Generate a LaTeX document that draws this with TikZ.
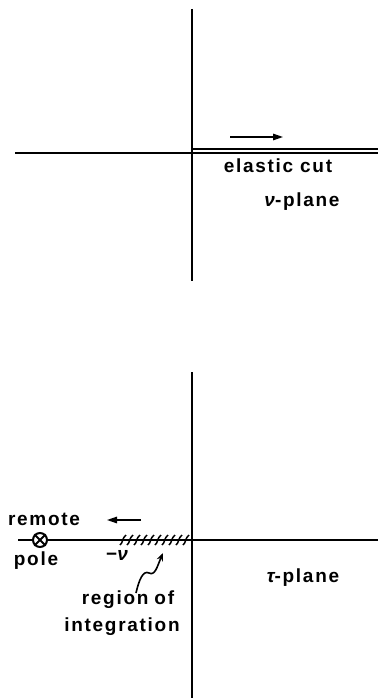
\documentclass[tikz,border=0pt]{standalone}
\usepackage{fontspec}
\setmainfont{Liberation Sans}
\newfontfamily\lblfont[LetterSpace=9]{Liberation Sans Bold}
\newfontfamily\grkfont{Liberation Sans Bold Italic}
\usetikzlibrary{arrows.meta}
\begin{document}
\begin{tikzpicture}[x=1pt,y=-1pt,
  axis/.style={line width=1.8pt,black},
  hline/.style={line width=1.3pt,black},
  lbl/.style={font=\lblfont\fontsize{19}{22}\selectfont,inner sep=0pt},
  dirarrow/.style={line width=1.4pt,-{Triangle[length=10pt,width=6.5pt]}},
  hatchmark/.style={line width=1.5pt}]
\useasboundingbox (0,0) rectangle (378,698);

% ---- nu-plane ----
\coordinate (t-top) at (192,9);
\coordinate (t-bot) at (192,281);
\coordinate (t-left) at (15,153);
\coordinate (t-org) at (192,153);
\coordinate (t-right) at (378,153);
\coordinate (cut-a) at (192,149);
\coordinate (cut-b) at (378,149);
\draw[axis] (t-top) -- (t-bot);
\draw[hline] (t-left) -- (t-right);
\draw[hline] (cut-a) -- (cut-b);
\coordinate (ta1) at (230,137);
\coordinate (ta2) at (283,137);
\draw[dirarrow] (ta1) -- (ta2);
\node[lbl] (cutlbl) at (278,166) {elastic cut};
\node[lbl] (nuplane) at (302,202) {{\grkfont ν}-plane};

% ---- tau-plane ----
\coordinate (b-top) at (192,372);
\coordinate (b-bot) at (192,698);
\coordinate (b-left) at (18,540);
\coordinate (b-right) at (378,540);
\draw[axis] (b-top) -- (b-bot);
\draw[hline] (b-left) -- (b-right);

% remote pole
\node[circle,draw,line width=2pt,fill=white,minimum size=14pt,inner sep=0pt] (pole) at (40,540) {};
\draw[line width=1.8pt] (pole.north east) -- (pole.south west)
                        (pole.north west) -- (pole.south east);
\node[lbl] (remote) at (44,519) {remote};
\node[lbl] (polelbl) at (36,561) {pole};

% arrow toward the pole
\coordinate (ba1) at (141,520);
\coordinate (ba2) at (107,520);
\draw[dirarrow] (ba1) -- (ba2);

% hatched region of integration
\foreach \x in {120,127,...,186}
  \draw[hatchmark] (\x,545) .. controls (\x+3,543) and (\x+2,538) .. (\x+6,535);
\node[lbl] (minusnu) at (117,555) {−{\grkfont ν}};

% pointer to the hatched region
\coordinate (sq0) at (136,593);
\coordinate (sq1) at (163,553);
\draw[line width=1.6pt,-{Stealth[length=8pt,width=6.5pt]}]
  (sq0) .. controls (139,580) and (143,570) .. (149,573)
        .. controls (155,576) and (157,567) .. (sq1);
\node[lbl] (region) at (128,600) {region\hspace{6pt}of};
\node[lbl] (integ) at (122,627) {integration};
\node[lbl] (tauplane) at (303,578) {{\grkfont τ}-plane};
\end{tikzpicture}
\end{document}
